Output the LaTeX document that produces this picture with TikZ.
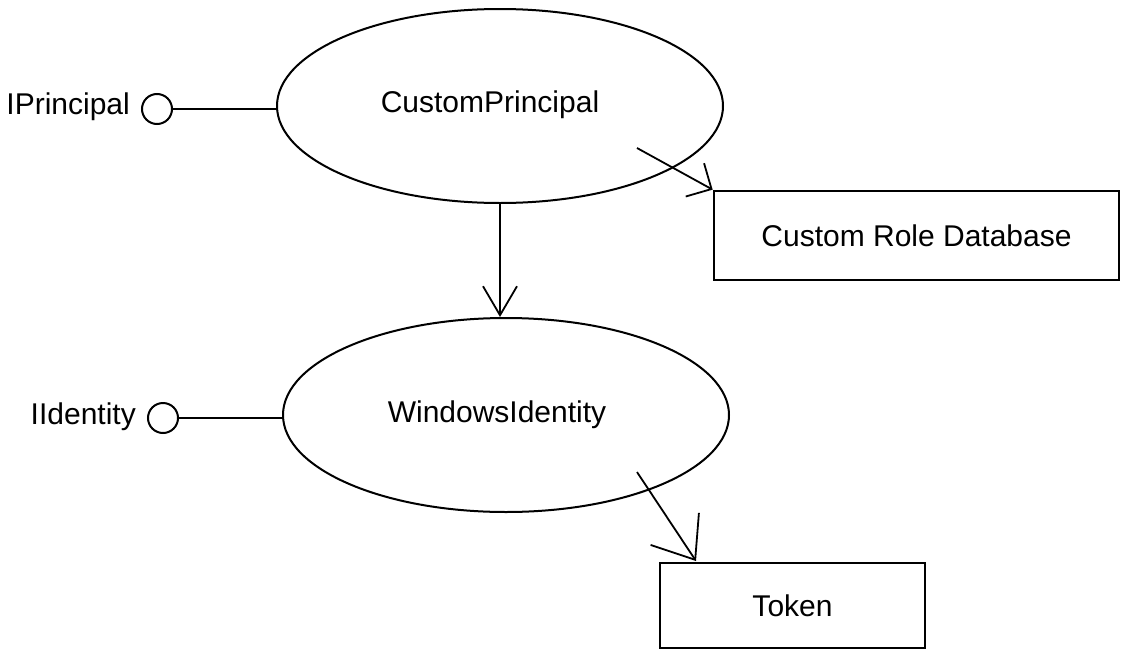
\documentclass[tikz,border=0pt]{standalone}
\usepackage{fontspec}
\setmainfont{Liberation Sans}
\usetikzlibrary{shapes.geometric,arrows.meta}
\begin{document}
\begin{tikzpicture}[x=1pt,y=-1pt,
  every node/.style={font=\fontsize{30}{36}\selectfont},
  usecase/.style={draw, ellipse, line width=2pt, minimum width=446pt,
    minimum height=194pt, inner sep=0pt},
  box/.style={draw, rectangle, line width=2.7pt, inner sep=0pt},
  iface/.style={draw, circle, line width=2pt, minimum size=30pt, inner sep=0pt},
  link/.style={line width=2pt},
  dep/.style={line width=1.8pt,
    -{Straight Barb[length=19pt, width=38pt, line width=1.8pt]}},
  depwide/.style={line width=1.8pt,
    -{Straight Barb[length=37pt, width=58pt, line width=1.8pt]}},
  depdown/.style={line width=1.8pt,
    -{Straight Barb[length=29pt, width=34pt, line width=1.8pt]}},
]
\useasboundingbox (0,0) rectangle (1124,656);

% use cases
\node[usecase, label={[xshift=-10pt, yshift=1pt]center:CustomPrincipal}] (cp) at (500,106) {};
\node[usecase, label={[xshift=-9pt]center:WindowsIdentity}] (wi) at (506,415) {};

% classes
\node[box, minimum width=405pt, minimum height=89pt] (crd) at (916.5,235.5) {Custom Role Database};
\node[box, minimum width=265pt, minimum height=85pt] (tok) at (792.5,605.5) {Token};

% interfaces (lollipops)
\node[iface] (ip) at (157,109) {};
\node[anchor=east, inner sep=0pt] (ipl) at (130,107) {IPrincipal};
\node[iface] (ii) at (163,418) {};
\node[anchor=east, inner sep=0pt] (iil) at (136,417) {IIdentity};
\draw[link] (ip.east) -- (ip.east -| cp.west);
\draw[link] (ii.east) -- (ii.east -| wi.west);

% dependencies
\coordinate (cpTail) at (637,148);
\coordinate (wiTail) at (637,472);
\coordinate (tokHit) at (696,561);
\draw[depdown] (cp.south) -- (cp.south |- wi.north);
\draw[dep] (cpTail) -- (crd.north west);
\draw[depwide] (wiTail) -- (tokHit);
\end{tikzpicture}
\end{document}
